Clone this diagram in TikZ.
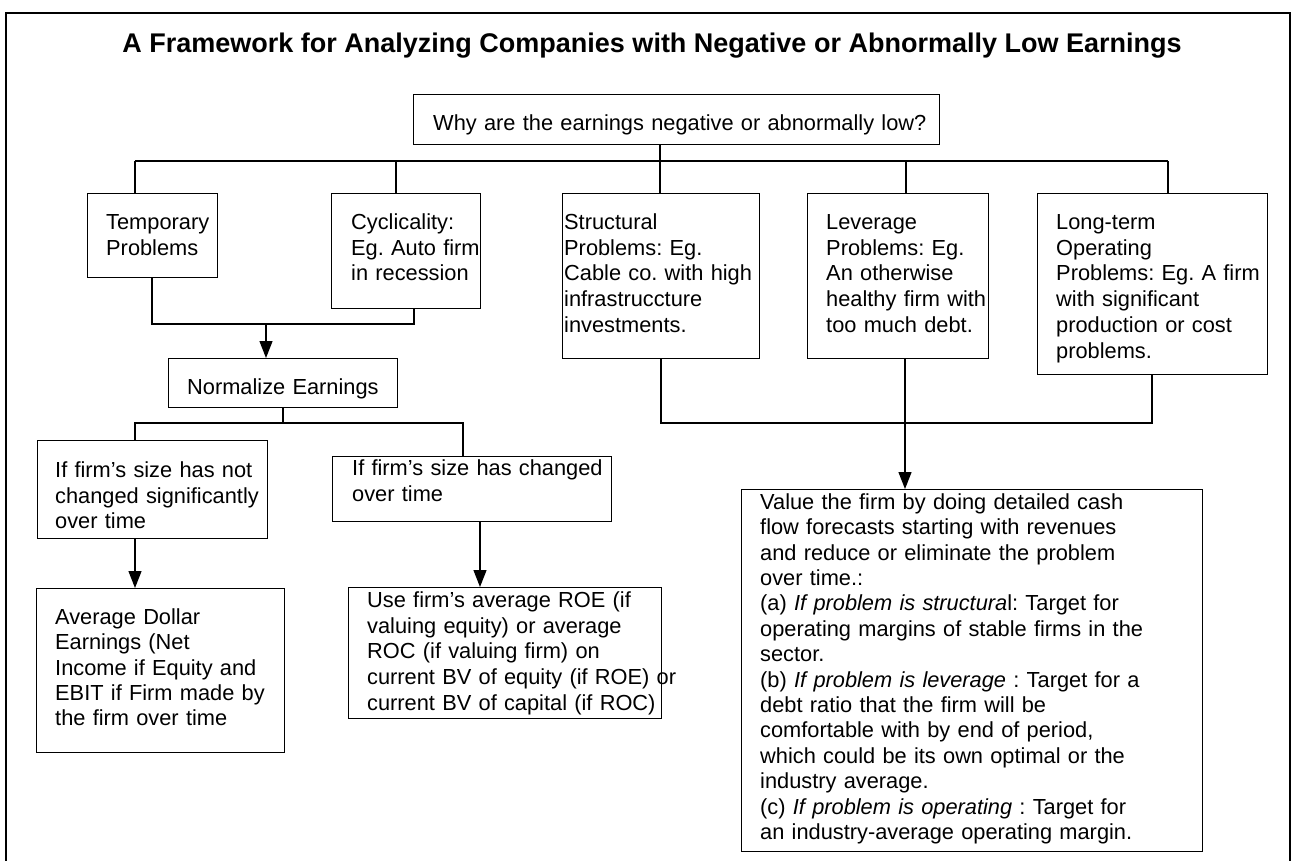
\documentclass[tikz,border=0pt]{standalone}
\usepackage{fontspec}
\setmainfont{Liberation Sans}
\usetikzlibrary{arrows.meta}
\frenchspacing
\begin{document}
\begin{tikzpicture}[x=1pt,y=-1pt,
  box/.style={draw, line width=1.4pt, inner sep=0pt, anchor=north west},
  txt/.style={anchor=north west, inner sep=0pt, align=left, text width=520pt,
    font=\fontsize{21.8}{25.8}\selectfont,
    execute at begin node={\noindent\frenchspacing\rule{0pt}{20pt}}},
  conn/.style={line width=1.3pt},
  arr/.style={conn, -{Triangle[length=17pt,width=13pt]}},
  frame/.style={line width=2pt}]
\useasboundingbox (0,0) rectangle (1295,860);
% frame
\draw[frame] (6,880) -- (6,13) -- (1290,13) -- (1290,880);
% title
\node[anchor=base, inner sep=0pt, font=\fontsize{27}{32}\selectfont\bfseries] (title) at (652,52)
  {A Framework for Analyzing Companies with Negative or Abnormally Low Earnings};
% boxes
\node[box, minimum width=526pt, minimum height=50pt] (top) at (413,94) {};
\node[box, minimum width=130pt, minimum height=84pt] (tmp) at (87,193) {};
\node[box, minimum width=149pt, minimum height=115pt] (cyc) at (331,193) {};
\node[box, minimum width=197pt, minimum height=165pt] (str) at (562,193) {};
\node[box, minimum width=181pt, minimum height=165pt] (lev) at (807,193) {};
\node[box, minimum width=230pt, minimum height=181pt] (lon) at (1037,193) {};
\node[box, minimum width=229pt, minimum height=49pt] (nor) at (168,358) {};
\node[box, minimum width=230pt, minimum height=98pt] (ifn) at (37,440) {};
\node[box, minimum width=279pt, minimum height=65pt] (ifc) at (332,456) {};
\node[box, minimum width=248pt, minimum height=164pt] (avg) at (36,588) {};
\node[box, minimum width=313pt, minimum height=131pt] (roe) at (348,587) {};
\node[box, minimum width=461pt, minimum height=362pt] (big) at (741,489) {};
% texts
\node[txt] (ttop) at ([shift={(20,16)}]top.north west) {Why are the earnings negative or abnormally low?};
\node[txt] (ttmp) at ([shift={(19,16)}]tmp.north west) {Temporary\\Problems};
\node[txt] (tcyc) at ([shift={(20,16)}]cyc.north west) {Cyclicality:\\Eg. Auto firm\\in recession};
\node[txt] (tstr) at ([shift={(2,16)}]str.north west) {Structural\\Problems: Eg.\\Cable co. with high\\infrastruccture\\investments.};
\node[txt] (tlev) at ([shift={(19,16)}]lev.north west) {Leverage\\Problems: Eg.\\An otherwise\\healthy firm with\\too much debt.};
\node[txt] (tlon) at ([shift={(19,16)}]lon.north west) {Long-term\\Operating\\Problems: Eg. A firm\\with significant\\production or cost\\problems.};
\node[txt] (tnor) at ([shift={(19,16)}]nor.north west) {Normalize Earnings};
\node[txt] (tifn) at ([shift={(18,17)}]ifn.north west) {If firm’s size has not\\changed significantly\\over time};
\node[txt] (tifc) at ([shift={(20,-1)}]ifc.north west) {If firm’s size has changed\\over time};
\node[txt, font=\fontsize{21.8}{25.4}\selectfont] (tavg) at ([shift={(19,16)}]avg.north west) {Average Dollar\\Earnings (Net\\Income if Equity and\\EBIT if Firm made by\\the firm over time};
\node[txt] (troe) at ([shift={(19,0)}]roe.north west) {Use firm’s average ROE (if\\valuing equity) or average\\ROC (if valuing firm) on\\current BV of equity (if ROE) or\\current BV of capital (if ROC)};
\node[txt, font=\fontsize{21.8}{25.4}\selectfont] (tbig) at ([shift={(19,0)}]big.north west) {Value the firm by doing detailed cash\\flow forecasts starting with revenues\\and reduce or eliminate the problem\\over time.:\\(a) \textit{If problem is structura}l: Target for\\operating margins of stable firms in the\\sector.\\(b) \textit{If problem is leverage} : Target for a\\debt ratio that the firm will be\\comfortable with by end of period,\\which could be its own optimal or the\\industry average.\\(c) \textit{If problem is operating} : Target for\\an industry-average operating margin.};
% top bus
\coordinate (b1) at (135,161);
\coordinate (b2) at (396,161);
\coordinate (b3) at (660,161);
\coordinate (b4) at (906,161);
\coordinate (b5) at (1168,161);
\draw[conn] (b3 |- top.south) -- (b3);
\draw[conn] (b1) -- (b5);
\foreach \b/\n in {b1/tmp,b2/cyc,b3/str,b4/lev,b5/lon}
  \draw[conn] (\b) -- (\b |- \n.north);
% left join
\coordinate (j1) at (152,324);
\coordinate (j2) at (414,324);
\coordinate (j3) at (266,324);
\draw[conn] (j1 |- tmp.south) -- (j1) -- (j2) -- (j2 |- cyc.south);
\draw[arr] (j3) -- (j3 |- nor.north);
% normalize split
\coordinate (n0) at (283,423);
\coordinate (n1) at (135,423);
\coordinate (n2) at (463,423);
\coordinate (a2) at (480,540);
\draw[conn] (n0 |- nor.south) -- (n0);
\draw[conn] (n1 |- ifn.north) -- (n1) -- (n2) -- (n2 |- ifc.north);
\draw[arr] (n1 |- ifn.south) -- (n1 |- avg.north);
\draw[arr] (a2 |- ifc.south) -- (a2 |- roe.north);
% right join
\coordinate (r1) at (661,423);
\coordinate (r2) at (1152,423);
\coordinate (r3) at (905,423);
\draw[conn] (r1 |- str.south) -- (r1) -- (r2) -- (r2 |- lon.south);
\draw[arr] (r3 |- lev.south) -- (r3 |- big.north);
\end{tikzpicture}
\end{document}
